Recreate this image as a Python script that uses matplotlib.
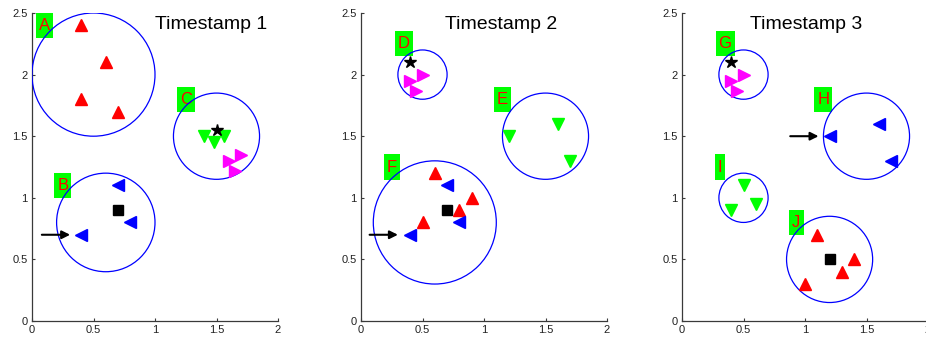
import matplotlib.pyplot as plt
from matplotlib.patches import Circle

plt.rcParams['font.family'] = ['Liberation Sans', 'DejaVu Sans']

# ---- data: one block per timestamp ----
# timestamp 1
t1_red_x = [0.4, 0.6, 0.4, 0.7]
t1_red_y = [2.4, 2.1, 1.8, 1.7]
t1_blue_x = [0.7, 0.8, 0.4]
t1_blue_y = [1.1, 0.8, 0.7]
t1_green_x = [1.4, 1.48, 1.56]
t1_green_y = [1.5, 1.45, 1.5]
t1_mag_x = [1.7, 1.6, 1.65]
t1_mag_y = [1.35, 1.3, 1.22]
t1_star = (1.5, 1.55)
t1_square = (0.7, 0.9)
t1_circles = [(0.5, 2.0, 0.5), (0.6, 0.8, 0.4), (1.5, 1.5, 0.35)]
t1_labels = [("A", 0.1, 2.4), ("B", 0.25, 1.1), ("C", 1.25, 1.8)]
t1_arrow = ((0.08, 0.7), (0.31, 0.7))

# timestamp 2
t2_red_x = [0.6, 0.9, 0.8, 0.5]
t2_red_y = [1.2, 1.0, 0.9, 0.8]
t2_blue_x = [0.7, 0.8, 0.4]
t2_blue_y = [1.1, 0.8, 0.7]
t2_green_x = [1.2, 1.6, 1.7]
t2_green_y = [1.5, 1.6, 1.3]
t2_mag_x = [0.5, 0.4, 0.45]
t2_mag_y = [2.0, 1.95, 1.87]
t2_star = (0.4, 2.1)
t2_square = (0.7, 0.9)
t2_circles = [(0.5, 2.0, 0.2), (1.5, 1.5, 0.35), (0.6, 0.8, 0.5)]
t2_labels = [("D", 0.35, 2.25), ("E", 1.15, 1.8), ("F", 0.25, 1.25)]
t2_arrow = ((0.07, 0.7), (0.3, 0.7))

# timestamp 3
t3_red_x = [1.1, 1.4, 1.3, 1.0]
t3_red_y = [0.7, 0.5, 0.4, 0.3]
t3_blue_x = [1.6, 1.2, 1.7]
t3_blue_y = [1.6, 1.5, 1.3]
t3_green_x = [0.5, 0.4, 0.6]
t3_green_y = [1.1, 0.9, 0.95]
t3_mag_x = [0.5, 0.4, 0.45]
t3_mag_y = [2.0, 1.95, 1.87]
t3_star = (0.4, 2.1)
t3_square = (1.2, 0.5)
t3_circles = [(0.5, 2.0, 0.2), (1.5, 1.5, 0.35), (0.5, 1.0, 0.2), (1.2, 0.5, 0.35)]
t3_labels = [("G", 0.35, 2.25), ("H", 1.15, 1.8), ("I", 0.31, 1.25), ("J", 0.93, 0.8)]
t3_arrow = ((0.88, 1.5), (1.11, 1.5))

titles = ["Timestamp 1", "Timestamp 2", "Timestamp 3"]
title_x = [1.0, 0.68, 0.55]

xticks = [0, 0.5, 1, 1.5, 2]
xticklabels = ["0", "0.5", "1", "1.5", "2"]
yticks = [0, 0.5, 1, 1.5, 2, 2.5]
yticklabels = ["0", "0.5", "1", "1.5", "2", "2.5"]

panels = [
    (t1_red_x, t1_red_y, t1_blue_x, t1_blue_y, t1_green_x, t1_green_y,
     t1_mag_x, t1_mag_y, t1_star, t1_square, t1_circles, t1_labels, t1_arrow),
    (t2_red_x, t2_red_y, t2_blue_x, t2_blue_y, t2_green_x, t2_green_y,
     t2_mag_x, t2_mag_y, t2_star, t2_square, t2_circles, t2_labels, t2_arrow),
    (t3_red_x, t3_red_y, t3_blue_x, t3_blue_y, t3_green_x, t3_green_y,
     t3_mag_x, t3_mag_y, t3_star, t3_square, t3_circles, t3_labels, t3_arrow),
]

fig = plt.figure(figsize=(9.26, 3.41), dpi=100)
lefts = [32, 361, 682]
axc = '#3a3a3a'

for i, p in enumerate(panels):
    (rx, ry, bx, by, gx, gy, mx, my, star, sq, circles, labels, arrow) = p
    ax = fig.add_axes([lefts[i] / 926, 20 / 341, 246 / 926, 308 / 341])
    ax.set_xlim(0, 2)
    ax.set_ylim(0, 2.5)

    for cx, cy, r in circles:
        ax.add_patch(Circle((cx, cy), r, fill=False, ec='#0000ff', lw=0.9, zorder=3))

    # letter tags: taller than wide, like the matlab text boxes
    for txt, tx, ty in labels:
        ax.text(tx, ty, txt, color='red', fontsize=12, ha='center', va='center', zorder=2,
                bbox=dict(boxstyle='square,pad=0.18', fc='#00ff00', ec='none',
                          mutation_aspect=1.7))

    ms = 8
    ax.plot(rx, ry, '^', color='#ff0000', mec='#ff0000', ms=ms, ls='none', zorder=4)
    ax.plot(bx, by, '<', color='#0000ff', mec='#0000ff', ms=ms, ls='none', zorder=4)
    ax.plot(gx, gy, 'v', color='#00ff00', mec='#00ff00', ms=ms, ls='none', zorder=4)
    ax.plot(mx, my, '>', color='#ff00ff', mec='#ff00ff', ms=ms, ls='none', zorder=4)
    ax.plot([star[0]], [star[1]], '*', color='k', ms=9, zorder=5)
    ax.plot([sq[0]], [sq[1]], 's', color='k', ms=7.5, zorder=5)

    ax.annotate('', xy=arrow[1], xytext=arrow[0],
                arrowprops=dict(arrowstyle='-|>', color='k', lw=1.5, mutation_scale=12,
                                shrinkA=0, shrinkB=0), zorder=5)

    ax.text(title_x[i], 2.41, titles[i], fontsize=14, ha='left', va='center', color='k')

    ax.set_xticks(xticks)
    ax.set_xticklabels(xticklabels)
    ax.set_yticks(yticks)
    ax.set_yticklabels(yticklabels)
    ax.tick_params(direction='in', length=2.5, width=0.8, labelsize=8, colors=axc, pad=3)
    ax.tick_params(labelcolor='#222222')
    for s in ['top', 'right']:
        ax.spines[s].set_visible(False)
    for s in ['left', 'bottom']:
        ax.spines[s].set_color(axc)
        ax.spines[s].set_linewidth(0.9)

fig.savefig('out.png', dpi=100)
